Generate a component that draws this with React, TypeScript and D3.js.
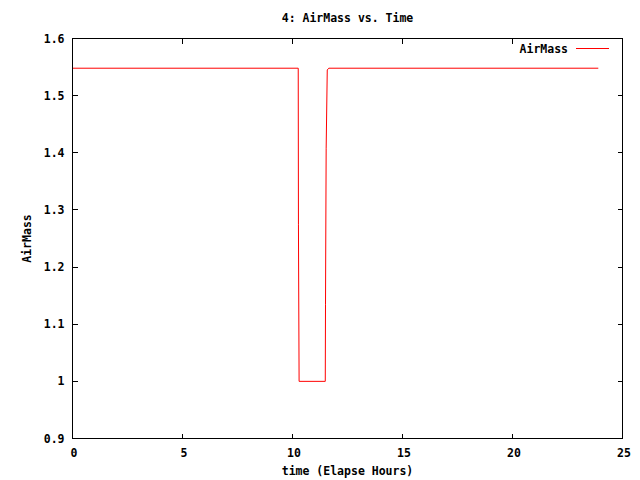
import React from "react";
import * as d3 from "d3";

const title = "4: AirMass vs. Time";
const xLabel = "time (Elapse Hours)";
const yLabel = "AirMass";
const seriesName = "AirMass";
const times = [0, 10.26, 10.27, 10.3, 11.49, 11.5, 11.53, 11.58, 11.65, 23.9];
const airmass = [1.548, 1.548, 1.275, 1.0, 1.0, 1.135, 1.408, 1.545, 1.548, 1.548];
const xTicks = [0, 5, 10, 15, 20, 25];
const yTicks = [0.9, 1.0, 1.1, 1.2, 1.3, 1.4, 1.5, 1.6];

const W = 640, H = 480;
const L = 72.5, R = 622.5, T = 38.5, B = 438.5;
const font = "'DejaVu Sans Mono', monospace";

export default function App() {
  const x = d3.scaleLinear().domain([0, 25]).range([L, R]);
  const y = d3.scaleLinear().domain([0.9, 1.6]).range([B, T]);
  const data = times.map((t, i) => [t, airmass[i]] as [number, number]);
  const line = d3.line<[number, number]>().x(d => x(d[0])).y(d => y(d[1]));
  const tl = 5;
  const fmt = (v: number) => String(+v.toFixed(2));
  return (
    <svg width={W} height={H} style={{ position: "absolute", left: 0, top: 0, background: "#fff" }}
      fontFamily={font} fontSize={11.5} fontWeight="bold">
      <rect x={0} y={0} width={W} height={H} fill="#fff" />
      <g stroke="#000" strokeWidth={1} shapeRendering="crispEdges">
        {yTicks.map(v => (
          <g key={"y" + v}>
            <line x1={L} x2={L + tl} y1={y(v)} y2={y(v)} />
            <line x1={R} x2={R - tl} y1={y(v)} y2={y(v)} />
          </g>
        ))}
        {xTicks.map(v => (
          <g key={"x" + v}>
            <line x1={x(v)} x2={x(v)} y1={B} y2={B - tl} />
            <line x1={x(v)} x2={x(v)} y1={T} y2={T + tl} />
          </g>
        ))}
      </g>
      {yTicks.map(v => (
        <text key={"yl" + v} x={L - 8} y={y(v)} dy="0.35em" textAnchor="end" fill="#000">{fmt(v)}</text>
      ))}
      {xTicks.map(v => (
        <text key={"xl" + v} x={x(v) + 1.5} y={B + 14.5} dy="0.35em" textAnchor="middle" fill="#000">{fmt(v)}</text>
      ))}
      <text x={(L + R) / 2} y={18} dy="0.35em" textAnchor="middle" fill="#000">{title}</text>
      <text x={(L + R) / 2} y={470.5} dy="0.35em" textAnchor="middle" fill="#000">{xLabel}</text>
      <text transform={`translate(27,${(T + B) / 2}) rotate(-90)`} dy="0.35em" textAnchor="middle" fill="#000">{yLabel}</text>
      <text x={568} y={48.5} dy="0.35em" textAnchor="end" fill="#000">{seriesName}</text>
      <line x1={576} x2={609} y1={48.5} y2={48.5} stroke="#ff0000" strokeWidth={1} shapeRendering="crispEdges" />
      <path d={line(data) || ""} fill="none" stroke="#ff0000" strokeWidth={1} />
      <rect x={L} y={T} width={R - L} height={B - T} fill="none" stroke="#000" strokeWidth={1} shapeRendering="crispEdges" />
    </svg>
  );
}
